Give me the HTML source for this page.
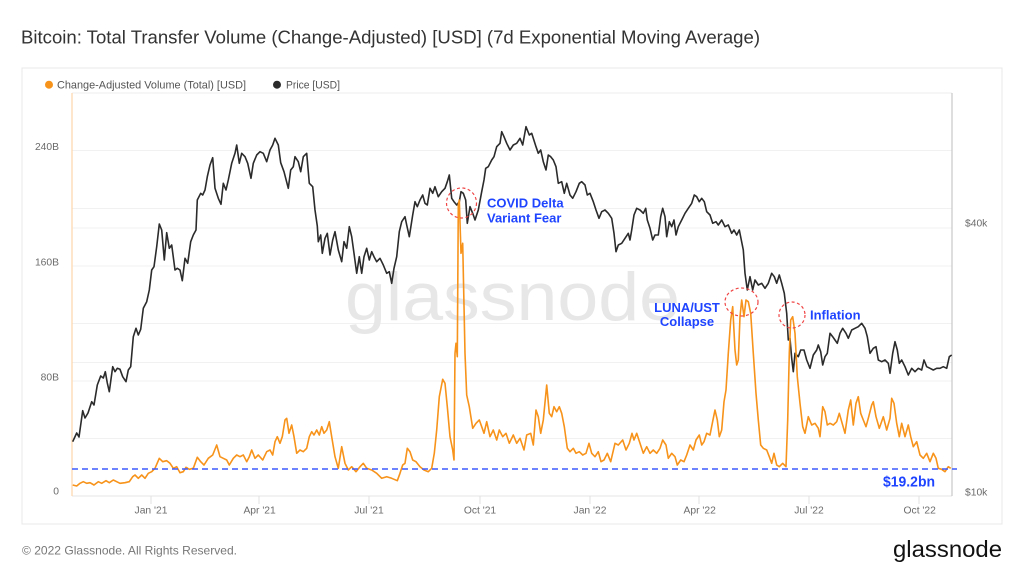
<!DOCTYPE html>
<html><head><meta charset="utf-8"><style>
html,body{margin:0;padding:0;background:#fff;width:1024px;height:576px;overflow:hidden}
svg{display:block;font-family:"Liberation Sans",Arial,sans-serif}
</style></head><body>
<svg width="1024" height="576" viewBox="0 0 1024 576" xmlns="http://www.w3.org/2000/svg">
<rect width="1024" height="576" fill="#fff"/>
<text x="21" y="43.5" font-size="18" fill="#333" textLength="739" lengthAdjust="spacingAndGlyphs">Bitcoin: Total Transfer Volume (Change-Adjusted) [USD] (7d Exponential Moving Average)</text>
<rect x="22" y="68" width="980" height="456" fill="#fff" stroke="#e8e8e8" stroke-width="1"/>
<circle cx="49" cy="84.7" r="4" fill="#f7931a"/>
<text x="57" y="88.6" font-size="11" fill="#555" textLength="189" lengthAdjust="spacingAndGlyphs">Change-Adjusted Volume (Total) [USD]</text>
<circle cx="277" cy="84.7" r="4" fill="#2b2b2b"/>
<text x="286" y="88.6" font-size="11" fill="#555" textLength="54" lengthAdjust="spacingAndGlyphs">Price [USD]</text>
<line x1="72" y1="93" x2="952" y2="93" stroke="#eee"/>
<g stroke="#f1f1f1" stroke-width="1">
<line x1="72" y1="150.5" x2="952" y2="150.5"/><line x1="72" y1="208.5" x2="952" y2="208.5"/>
<line x1="72" y1="266" x2="952" y2="266"/><line x1="72" y1="323.5" x2="952" y2="323.5"/>
<line x1="72" y1="381" x2="952" y2="381"/><line x1="72" y1="438.5" x2="952" y2="438.5"/>
<line x1="72" y1="228" x2="952" y2="228"/><line x1="72" y1="362.5" x2="952" y2="362.5"/>
</g>
<text x="345" y="320" font-size="68" fill="#e7e7e7" textLength="335" lengthAdjust="spacingAndGlyphs">glassnode</text>
<line x1="72" y1="496" x2="952" y2="496" stroke="#e4e4e4"/>
<line x1="72" y1="93" x2="72" y2="496" stroke="#fdd6aa" stroke-width="1.2"/>
<line x1="952" y1="93" x2="952" y2="496" stroke="#c8c8c8" stroke-width="1.2"/>
<g stroke="#e0e0e0"><line x1="151" y1="496" x2="151" y2="504"/><line x1="259" y1="496" x2="259" y2="504"/><line x1="369" y1="496" x2="369" y2="504"/><line x1="480" y1="496" x2="480" y2="504"/><line x1="590" y1="496" x2="590" y2="504"/><line x1="699" y1="496" x2="699" y2="504"/><line x1="809" y1="496" x2="809" y2="504"/><line x1="919" y1="496" x2="919" y2="504"/></g>
<g font-size="10.3" fill="#6b6b6b" text-anchor="end">
<text x="59" y="149.8">240B</text><text x="59" y="265.6">160B</text><text x="59" y="380.6">80B</text><text x="59" y="494.6">0</text>
</g>
<g font-size="10.3" fill="#6b6b6b">
<text x="965" y="226.4">$40k</text><text x="965" y="495.4">$10k</text>
</g>
<g font-size="10.3" fill="#6b6b6b" text-anchor="middle">
<text x="151" y="513.5">Jan '21</text><text x="259.6" y="513.5">Apr '21</text><text x="369" y="513.5">Jul '21</text><text x="480" y="513.5">Oct '21</text><text x="590" y="513.5">Jan '22</text><text x="699.7" y="513.5">Apr '22</text><text x="809" y="513.5">Jul '22</text><text x="919.7" y="513.5">Oct '22</text>
</g>
<polyline fill="none" stroke="#2b2b2b" stroke-width="1.6" stroke-linejoin="round" points="72.7,441.7 76.7,433 79,437 82.7,410.7 85,418 88,413 91.7,401.7 94,405 97.3,385 100.7,376 103.3,378 105.3,371.7 107.3,383 109.3,391.7 112.7,366.7 115,371.7 117.3,368.3 120,369.3 122.7,376.7 126,381.7 128.3,370 130.7,366.7 133.3,336.7 136,328.3 138.3,335 140.7,329.3 143.3,308.3 146.7,301.7 149.3,290 151.7,270 154,266.7 156.7,246.7 159.3,224 161.7,230 164.3,260 166.7,232.7 169.3,248.3 171.7,245 175,270 177.3,268.3 180,270 182.3,280.7 185,258.3 187.7,263.3 190.7,241.7 193.3,235 196,230 197.3,200 200.7,193.3 202.7,195 205,190 207.3,176.7 210,165 212.7,157.7 215,188.3 218.3,198.3 221,204.3 223.3,183.3 226,190 228.3,180 231.7,163.3 235,153.3 236.7,145 239.3,163.3 241.7,153.3 245,156.7 247.7,163.3 251,178.3 253.3,163.3 256.7,155 260,151.7 263.3,153.3 266.7,161.7 270,150 272.7,145 275,138.3 278.3,145 280.7,162.7 284,171.7 288.3,188.3 290.7,170 293.3,166.7 295,156.7 298.3,161.7 300.7,171.7 303.3,156.7 306.7,153.3 309.3,183.3 312.7,186.7 315,210 317.3,226 318.3,241.7 320.7,235 322.3,253.3 325,238.3 327.3,233.3 330,255 332.7,240 335,231.7 338.3,250 341.7,261.7 344,241.7 346.7,248.3 349.3,226.7 351.7,236.7 354,253.3 356.7,273.3 359.3,256.7 361.7,273.3 364,256.7 366.7,248.3 369.3,260 371.7,251.7 374,256.7 376.7,261.7 380,258.3 383.3,265 386.7,273.3 389.3,271.7 391.7,283.3 394,268.3 396.7,256.7 399.3,231.7 401.7,221.7 405,216.7 406.7,225 409.3,236.7 412.7,215 415,201.7 417.3,206.7 420,200 422.7,195 425,203.3 427.3,205 430,188.3 432.7,193.3 435,186.7 438.3,196.7 441.7,191.7 445,188.3 447.3,181.7 449.3,175 451.7,198.3 454,201.7 456.7,205 459.3,201.7 461,191.7 463.3,193.3 465.7,200 467.3,223.3 470,206.7 472.7,213.3 475,220 478.3,210 481.7,191.7 484,180 485.7,168.3 488.3,166.7 491.7,160 494,156.7 496.7,146.7 500,143.3 501.7,131.7 504,136.7 506.7,143.3 510,150 513.3,145 516.7,143.3 520,138.3 522.7,145 526,126.7 529.3,135 531.7,133.3 536,146.7 538.3,153.3 540.7,150 543.3,161.7 546,170 548.3,155 550.7,156.7 553.3,160 556,166.7 558.3,183.3 561.7,181.7 564.3,193.3 566.7,183.3 570,195 572.7,198.3 576,191.7 579.3,183.3 581.7,181.7 585,185 587.3,195 590,193.3 593.3,201.7 596,210 599,218.3 601.7,211.7 605,210 608.3,213.3 611.7,218.3 614,233.3 616,251.7 618.3,245 621.7,243.3 625,238.3 628.3,233.3 630,240 631.7,230 634,215 636.7,208.3 640,210 643.3,213.3 645.7,208.3 647.3,220 650,228.3 652.7,240 655,235 658.3,235 660.7,216.7 662.7,208.3 665,216.7 666.7,236.7 669.3,221.7 671.7,226.7 674,220 676,235 678.3,226.7 681.7,220 685,213.3 688.3,208.3 691.7,203.3 694.3,195 696.7,196.7 699.3,201.7 701.7,198.3 704.3,201.7 706.7,211.7 710,215 712.7,223.3 716,221.7 718.3,225 721.7,220 725,226.7 728.3,225 731.7,233.3 734,230 736.7,235 739.3,230 743.3,250 745,273.3 747.3,290 750,276.7 752.7,290 755,280 758.3,285 761.7,283.3 765,288.3 768.3,283.3 771.7,273.3 774.3,276.7 776.7,283.3 779.3,275 781.7,283.3 784.3,293.3 786.7,313.3 788.3,340 790,338.3 791.7,358.3 793.3,371.7 795,353.3 798.3,356.7 800.7,350 804,350 806.7,360 810,368.3 813.3,355 816.7,350 818.3,345 820.7,351.7 822.7,365 825,356.7 827.3,353.3 830,333.3 832.7,336.7 835,340 837.3,343.3 840,333.3 842.7,328.3 846,333.3 848.3,338.3 851.7,330 855,328.3 858.3,326.7 861.7,323.3 865,328.3 867.3,336.7 870,353.3 873.3,348.3 876,346.7 878.3,360 881.7,361.7 885,360 888.3,363.3 890,373.3 892.7,353.3 895,341.7 897.3,350 899.3,363.3 901.7,360 905,366.7 908.3,375 911.7,368.3 915,371.7 918.3,368.3 921.7,370 924,360 926.7,366.7 930,368.3 933.3,370 936.7,368.3 940,368.3 943.3,366.7 946.7,368.3 949.3,356.7 951.7,355"/>
<polyline fill="none" stroke="#f7931a" stroke-width="1.6" stroke-linejoin="round" points="72.7,485 76.7,486 80,483.3 83.3,481.7 86.7,483.3 90,482.7 94,485 98.3,481.7 101.7,483.3 106,480.7 109.3,482.7 113.3,480 116.7,481.7 120,483.3 125,482.7 129.3,481.7 132.7,476.7 135,475 138.3,478.3 141.7,475 145,478.3 148.3,473.3 151.7,471.7 155,468.3 159.3,458.3 162.7,461.7 166.7,460.7 170,463.3 173.3,468.3 176.7,466.7 180,472.7 183.3,471.7 186,467.3 189.3,469.3 193.3,468.3 197.3,457.3 200.7,461.7 204,465 208.3,458.3 212.7,455 216.7,445 220,456.7 223.3,458.3 226.7,460 229.3,465 233.3,458.3 236.7,455 240,456.7 243.3,455 246.7,461.7 249.3,456.7 251.7,450 255,458.3 258.3,455 262.7,460 266.7,451.7 270,450 272.7,455 275,441.7 277.3,436.7 280,443.3 282.3,436.7 285,420 286.7,418.3 289,433.3 291.7,425 294,436.7 296.7,453.3 300,450 303.3,451.7 306.7,448.3 309.3,436.7 311.7,431.7 314,435 316.7,430 319.3,435 321.7,426.7 324,433.3 326.7,430 329.3,421.7 331.7,436.7 335,456.7 338.3,468.3 341.7,446.7 345,463.3 348.3,470 351.7,466.7 356,471.7 360,466.7 363.3,463.3 366.7,468.3 371.7,470 376.7,473.3 381.7,478.3 386.7,476.7 391.7,478.3 397.3,480.7 400,473.3 402.7,465 405,463.3 407.3,448.3 410,451.7 412.7,460 416,461.7 420,466.7 424,470 428.3,471.7 431.7,468.3 434.3,453.3 436.7,430 439.3,396.7 442.7,379.3 445,383.3 447.3,406.7 450,436.7 452.7,450 454,460 455,353.3 456,343.3 457.3,356.7 458.3,205 459.3,200 461,253.3 462.7,243.3 465,353.3 466.7,395 469.3,406.7 472.7,428.3 476,423.3 479.3,420 481.7,426.7 484,433.3 486.7,421.7 490,436.7 493.3,430 496.7,440 499.3,430 502.7,436.7 506,433.3 509.3,443.3 513.3,435 516.7,443.3 520,438.3 524,450 526.7,435 530.7,433.3 533.3,445 536,410 538.3,416.7 540.7,433.3 543.3,420 546.7,385 549.3,413.3 551.7,416.7 554,406.7 556.7,411.7 559.3,406.7 561.7,413.3 564.3,426.7 567.3,448.3 570,451.7 573.3,448.3 576,453.3 579.3,451.7 582.7,455 586,453.3 589,443.3 591.7,453.3 595,456.7 598.3,451.7 601,461.7 604,460 607.3,453.3 610.7,461.7 615,443.3 618.3,445 622.7,440 626,450 629.3,443.3 632,433.3 634,440 636.7,433.3 640,443.3 643.3,453.3 646.7,446.7 650,453.3 653.3,450 656.7,453.3 660,448.3 662.7,440 666,445 668.3,458.3 671.7,453.3 675,456.7 677.3,465 680.7,460 684,461.7 686.7,455 690,445 693.3,450 696,440 699.3,435 701.7,445 704,441.7 706.7,433.3 710,435 713.3,418.3 715,410 717.3,420 719.3,436.7 721.7,430 724,401.7 726,390 728.3,353.3 730.7,320 732.7,306.7 735,350 736.7,365 738.3,360 740,316.7 741.7,300 744,316.7 746,300 748.3,301.7 750.7,313.3 753.3,353.3 756,393.3 758.3,420 760.7,445 763.3,448.3 766.7,450 769.3,456.7 771.7,463.3 774,453.3 776.7,465 779.3,466.7 782.7,463.3 786,466.7 787.7,420 789.3,353.3 790.7,320 792.7,316.7 795,333.3 797.3,376.7 800,403.3 802.7,426.7 805,433.3 808.3,416.7 811.7,425 815,423.3 818.3,428.3 820,436.7 822.7,406.7 825,411.7 827.3,425 830,423.3 833.3,425 836.7,421.7 839.3,413.3 841.7,421.7 845,433.3 848.3,410 850.7,400 853.3,425 856,403.3 858.3,396.7 860.7,413.3 863.3,420 866,426.7 868.3,418.3 871.7,405 873.3,401.7 876,416.7 879.3,428.3 883.3,416.7 886.7,430 890,418.3 891.7,398.3 894,403.3 896.7,423.3 899.3,436.7 901.7,423.3 905,436.7 908.3,425 910.7,436.7 913.3,446.7 916.7,441.7 920,455 923.3,458.3 926.7,453.3 930,461.7 933.3,453.3 936,458.3 938.3,468.3 941.7,469.3 945,471.7 948.3,466.7 950.7,468.3"/>
<line x1="72" y1="469" x2="957" y2="469" stroke="#3d5afe" stroke-width="1.4" stroke-dasharray="6,4"/>
<g fill="none" stroke="#f04545" stroke-width="1.2" stroke-dasharray="3,2.5">
<ellipse cx="461.5" cy="203" rx="15" ry="15"/>
<ellipse cx="741.5" cy="302" rx="16.5" ry="14"/>
<ellipse cx="792" cy="315" rx="13" ry="13"/>
</g>
<g font-size="13" font-weight="bold" fill="#1f44ff">
<text x="487" y="207.5">COVID Delta</text>
<text x="487" y="222.5">Variant Fear</text>
<text x="687" y="312" text-anchor="middle">LUNA/UST</text>
<text x="687" y="326" text-anchor="middle">Collapse</text>
<text x="810" y="319.5">Inflation</text>
<text x="883" y="486.5" font-size="14.5" textLength="52" lengthAdjust="spacingAndGlyphs">$19.2bn</text>
</g>
<text x="22" y="554.5" font-size="12" fill="#777" textLength="215" lengthAdjust="spacingAndGlyphs">© 2022 Glassnode. All Rights Reserved.</text>
<text x="893" y="557" font-size="23" fill="#111" textLength="109" lengthAdjust="spacingAndGlyphs">glassnode</text>
</svg>
</body></html>
